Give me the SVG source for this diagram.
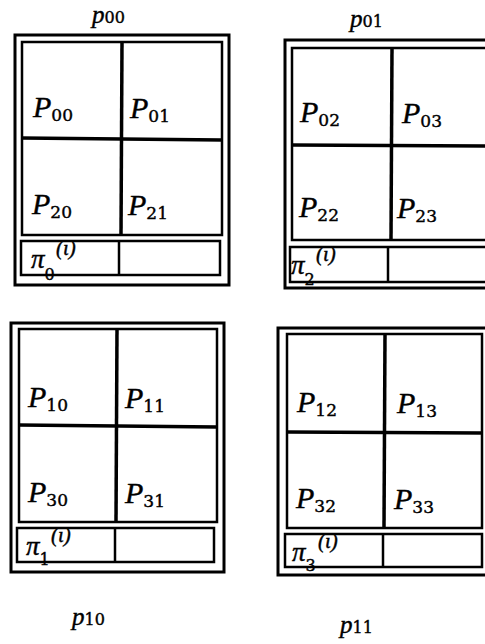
<svg xmlns="http://www.w3.org/2000/svg" width="485" height="644" viewBox="0 0 485 644">
<style>
.outer{fill:none;stroke:#000;stroke-width:3}
.inner{fill:none;stroke:#000;stroke-width:2.5}
.div{fill:none;stroke:#000;stroke-width:3.5}
.thin{fill:none;stroke:#000;stroke-width:2.5}
text{fill:#000;stroke:#000;stroke-width:0.4}
.P{font-family:"Liberation Serif",serif;font-style:italic;font-size:30px}
.s{font-family:"DejaVu Serif","Liberation Serif",serif;font-style:normal;font-size:17px}
.t{font-family:"Liberation Serif",serif;font-style:italic;font-size:25px}
.ts{font-family:"DejaVu Serif","Liberation Serif",serif;font-style:normal;font-size:16px}
.pi{font-family:"Liberation Serif",serif;font-style:italic;font-size:27px}
.pis{font-family:"DejaVu Serif","Liberation Serif",serif;font-style:normal;font-size:16px}
.sup{font-family:"Liberation Serif",serif;font-style:italic;font-size:21px}
</style>
<rect width="485" height="644" fill="#fff"/>

<g id="block-p00">
<rect class="outer" x="15" y="35" width="214" height="250"/>
<rect class="inner" x="22" y="42" width="200" height="193"/>
<line class="div" x1="122" y1="42" x2="121" y2="235"/>
<line class="div" x1="22" y1="138" x2="222" y2="140"/>
<rect class="inner" x="21" y="241" width="199" height="34"/>
<line class="thin" x1="119" y1="241" x2="119" y2="275"/>
<text class="P" x="33" y="117">P<tspan class="s" dy="4">00</tspan></text>
<text class="P" x="130" y="118">P<tspan class="s" dy="4">01</tspan></text>
<text class="P" x="32" y="214">P<tspan class="s" dy="4">20</tspan></text>
<text class="P" x="128" y="215">P<tspan class="s" dy="4">21</tspan></text>
<text class="pi" x="31" y="268">π<tspan class="pis" dy="12">0</tspan></text>
<text class="sup" x="56" y="255">(ι)</text>
<text class="t" x="92" y="23">p<tspan class="ts">00</tspan></text>
</g>

<g id="block-p01">
<rect class="outer" x="285" y="40" width="215" height="248"/>
<rect class="inner" x="292" y="48" width="210" height="192"/>
<line class="div" x1="392" y1="48" x2="391" y2="240"/>
<line class="div" x1="292" y1="145" x2="500" y2="146"/>
<rect class="inner" x="290" y="247" width="210" height="35"/>
<line class="thin" x1="388" y1="247" x2="388" y2="282"/>
<text class="P" x="300" y="122">P<tspan class="s" dy="4">02</tspan></text>
<text class="P" x="402" y="123">P<tspan class="s" dy="4">03</tspan></text>
<text class="P" x="299" y="217">P<tspan class="s" dy="4">22</tspan></text>
<text class="P" x="397" y="218">P<tspan class="s" dy="4">23</tspan></text>
<text class="pi" x="291" y="274">π<tspan class="pis" dy="11">2</tspan></text>
<text class="sup" x="316" y="261">(ι)</text>
<text class="t" x="350" y="27">p<tspan class="ts">01</tspan></text>
</g>

<g id="block-p10">
<rect class="outer" x="11" y="323" width="213" height="249"/>
<rect class="inner" x="19" y="329" width="198" height="193"/>
<line class="div" x1="117" y1="329" x2="116" y2="522"/>
<line class="div" x1="19" y1="425" x2="217" y2="427"/>
<rect class="inner" x="17" y="528" width="197" height="34"/>
<line class="thin" x1="115" y1="528" x2="115" y2="562"/>
<text class="P" x="28" y="407">P<tspan class="s" dy="4">10</tspan></text>
<text class="P" x="125" y="408">P<tspan class="s" dy="4">11</tspan></text>
<text class="P" x="28" y="502">P<tspan class="s" dy="4">30</tspan></text>
<text class="P" x="125" y="503">P<tspan class="s" dy="4">31</tspan></text>
<text class="pi" x="26" y="555">π<tspan class="pis" dy="10">1</tspan></text>
<text class="sup" x="51" y="542">(ι)</text>
<text class="t" x="72" y="625">p<tspan class="ts">10</tspan></text>
</g>

<g id="block-p11">
<rect class="outer" x="278" y="328" width="220" height="247"/>
<rect class="inner" x="287" y="334" width="195" height="194"/>
<line class="div" x1="385" y1="334" x2="384" y2="528"/>
<line class="div" x1="287" y1="432" x2="482" y2="433"/>
<rect class="inner" x="285" y="534" width="197" height="33"/>
<line class="thin" x1="383" y1="534" x2="383" y2="567"/>
<text class="P" x="297" y="412">P<tspan class="s" dy="4">12</tspan></text>
<text class="P" x="397" y="413">P<tspan class="s" dy="4">13</tspan></text>
<text class="P" x="296" y="508">P<tspan class="s" dy="4">32</tspan></text>
<text class="P" x="394" y="509">P<tspan class="s" dy="4">33</tspan></text>
<text class="pi" x="292" y="561">π<tspan class="pis" dy="10">3</tspan></text>
<text class="sup" x="318" y="548">(ι)</text>
<text class="t" x="340" y="633">p<tspan class="ts">11</tspan></text>
</g>
<g id="connectors"/>
</svg>
